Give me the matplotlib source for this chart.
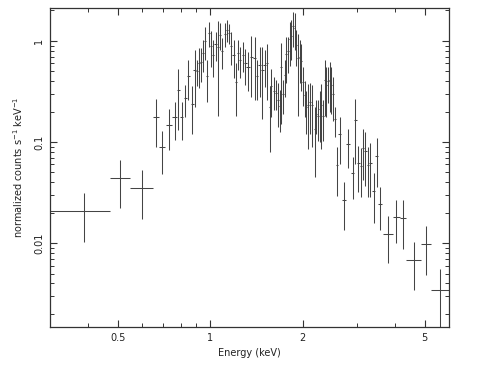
import matplotlib
matplotlib.use("Agg")
import matplotlib.pyplot as plt
from matplotlib.ticker import FixedLocator, NullFormatter

# Energy bin centres (keV) and half-widths
energy = [0.386, 0.509, 0.600, 0.664, 0.696, 0.733, 0.765, 0.787, 0.806, 0.829,
          0.848, 0.874, 0.889, 0.905, 0.918, 0.932, 0.946, 0.963, 0.975, 0.989,
          1.008, 1.023, 1.040, 1.059, 1.078, 1.094, 1.113, 1.132, 1.150, 1.170,
          1.191, 1.215, 1.234, 1.252, 1.277, 1.300, 1.326, 1.360, 1.394, 1.419,
          1.447, 1.477, 1.503, 1.529, 1.560, 1.580, 1.608, 1.632, 1.660, 1.681,
          1.703, 1.724, 1.746, 1.769, 1.790, 1.813, 1.836, 1.858, 1.882, 1.906,
          1.929, 1.954, 1.979, 2.003, 2.029, 2.055, 2.079, 2.117, 2.149, 2.187,
          2.215, 2.242, 2.270, 2.299, 2.327, 2.357, 2.387, 2.416, 2.447, 2.478,
          2.508, 2.541, 2.590, 2.640, 2.720, 2.810, 2.914, 2.973, 3.040, 3.090,
          3.140, 3.200, 3.260, 3.320, 3.410, 3.490, 3.580, 3.795, 4.045, 4.255,
          4.605, 5.045, 5.615]
energy_err = [0.086, 0.038, 0.051, 0.014, 0.018, 0.017, 0.014, 0.010, 0.010, 0.011,
              0.011, 0.011, 0.008, 0.008, 0.007, 0.007, 0.008, 0.007, 0.007, 0.008,
              0.008, 0.008, 0.009, 0.009, 0.009, 0.009, 0.009, 0.009, 0.010, 0.010,
              0.011, 0.011, 0.009, 0.011, 0.012, 0.012, 0.016, 0.017, 0.013, 0.013,
              0.015, 0.014, 0.013, 0.015, 0.012, 0.012, 0.012, 0.013, 0.012, 0.011,
              0.011, 0.011, 0.011, 0.011, 0.011, 0.011, 0.011, 0.012, 0.012, 0.012,
              0.012, 0.012, 0.012, 0.012, 0.013, 0.012, 0.017, 0.017, 0.018, 0.014,
              0.014, 0.014, 0.014, 0.014, 0.015, 0.015, 0.015, 0.015, 0.015, 0.015,
              0.016, 0.020, 0.025, 0.030, 0.040, 0.045, 0.030, 0.030, 0.030, 0.025,
              0.028, 0.030, 0.030, 0.040, 0.040, 0.040, 0.060, 0.135, 0.115, 0.095,
              0.255, 0.185, 0.385]
# normalized counts s^-1 keV^-1 and 1-sigma errors
counts = [0.0206, 0.044, 0.0353, 0.177, 0.0884, 0.1485, 0.1765, 0.33, 0.177, 0.27,
          0.45, 0.24, 0.52, 0.50, 0.60, 0.62, 0.76, 1.00, 0.45, 1.20,
          0.90, 0.73, 0.93, 0.88, 1.15, 0.80, 1.18, 1.29, 1.20, 0.90,
          0.72, 0.39, 0.76, 0.65, 0.73, 0.60, 0.55, 0.70, 0.68, 0.45,
          0.58, 0.52, 0.58, 0.60, 0.22, 0.355, 0.323, 0.307, 0.26, 0.225,
          0.55, 0.30, 0.46, 0.74, 0.79, 1.05, 1.12, 1.40, 1.34, 0.92,
          0.68, 0.70, 0.63, 0.39, 0.29, 0.22, 0.23, 0.25, 0.23, 0.133,
          0.19, 0.18, 0.21, 0.23, 0.18, 0.41, 0.365, 0.40, 0.41, 0.37,
          0.30, 0.167, 0.059, 0.119, 0.0267, 0.095, 0.049, 0.165, 0.062, 0.0576,
          0.088, 0.081, 0.0586, 0.0627, 0.0325, 0.072, 0.0246, 0.0124, 0.0183, 0.0176,
          0.00685, 0.0097, 0.0034]
counts_err = [0.0104, 0.022, 0.0178, 0.088, 0.0397, 0.0655, 0.0725, 0.20, 0.0725, 0.094,
              0.19, 0.12, 0.30, 0.14, 0.26, 0.23, 0.27, 0.36, 0.20, 0.33,
              0.35, 0.29, 0.30, 0.70, 0.34, 0.27, 0.31, 0.31, 0.27, 0.32,
              0.29, 0.21, 0.25, 0.22, 0.24, 0.23, 0.23, 0.42, 0.42, 0.19,
              0.30, 0.35, 0.23, 0.34, 0.14, 0.178, 0.117, 0.10, 0.12, 0.10,
              0.40, 0.11, 0.18, 0.36, 0.31, 0.49, 0.48, 0.53, 0.53, 0.36,
              0.50, 0.32, 0.31, 0.165, 0.115, 0.10, 0.145, 0.13, 0.14, 0.088,
              0.07, 0.078, 0.11, 0.145, 0.078, 0.23, 0.19, 0.157, 0.21, 0.18,
              0.14, 0.055, 0.030, 0.058, 0.0133, 0.040, 0.022, 0.104, 0.030, 0.029,
              0.046, 0.044, 0.030, 0.034, 0.0166, 0.0365, 0.0112, 0.0061, 0.0082, 0.0089,
              0.00345, 0.0049, 0.0021]

x_major = [0.5, 1, 2, 5]
x_major_labels = ["0.5", "1", "2", "5"]
x_minor = [0.3, 0.4, 0.6, 0.7, 0.8, 0.9, 3, 4, 6]
y_major = [0.01, 0.1, 1]
y_major_labels = ["0.01", "0.1", "1"]
y_minor = [0.002, 0.003, 0.004, 0.005, 0.006, 0.007, 0.008, 0.009,
           0.02, 0.03, 0.04, 0.05, 0.06, 0.07, 0.08, 0.09,
           0.2, 0.3, 0.4, 0.5, 0.6, 0.7, 0.8, 0.9, 2]

plt.rcParams['font.family'] = ['DejaVu Sans']
fig = plt.figure(figsize=(5.0, 3.68), dpi=100)
ax = fig.add_axes([0.100, 0.1114, 0.798, 0.8660])

ax.errorbar(energy, counts, xerr=energy_err, yerr=counts_err, fmt='none',
            ecolor='#444444', elinewidth=0.75, capsize=0)

ax.set_xscale('log')
ax.set_yscale('log')
ax.set_xlim(0.3, 6.0)
ax.set_ylim(0.00148, 2.1)

ax.xaxis.set_major_locator(FixedLocator(x_major))
ax.set_xticklabels(x_major_labels)
ax.xaxis.set_minor_locator(FixedLocator(x_minor))
ax.xaxis.set_minor_formatter(NullFormatter())
ax.yaxis.set_major_locator(FixedLocator(y_major))
ax.set_yticklabels(y_major_labels)
ax.yaxis.set_minor_locator(FixedLocator(y_minor))
ax.yaxis.set_minor_formatter(NullFormatter())

ax.tick_params(which='both', direction='in', top=True, right=True,
               color='#333333', labelsize=7, labelcolor='#222222')
ax.tick_params(which='major', length=5, width=0.8, pad=4)
ax.tick_params(which='minor', length=3, width=0.7)
for lab in ax.get_yticklabels():
    lab.set_rotation(90)
    lab.set_va('center')

for sp in ax.spines.values():
    sp.set_color('#333333')
    sp.set_linewidth(0.9)

ax.set_xlabel('Energy (keV)', fontsize=7, color='#222222', labelpad=4)
ax.set_ylabel(r'normalized counts s$^{-1}$ keV$^{-1}$', fontsize=7,
              color='#222222', labelpad=7)

fig.savefig('out.png', dpi=100)
